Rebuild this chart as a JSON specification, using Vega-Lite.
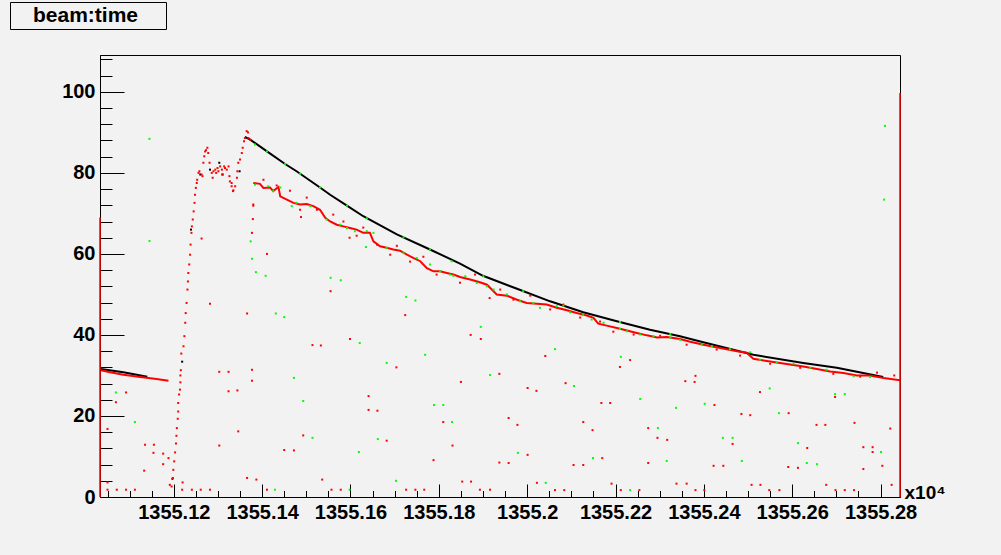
{
  "$schema": "https://vega.github.io/schema/vega-lite/v6.json",
  "width": 800,
  "height": 442,
  "autosize": {"type": "none"},
  "padding": {"left": 100, "top": 55, "right": 101, "bottom": 58},
  "background": "#f2f2f2",
  "config": {
    "view": {"stroke": "#000000", "strokeWidth": 1, "fill": "#f2f2f2"},
    "font": "Liberation Sans",
    "axis": {"labelFont": "Liberation Sans", "labelFontSize": 20, "labelFontWeight": "bold", "labelColor": "#000000", "domainColor": "#000000", "tickColor": "#000000", "grid": false, "domainWidth": 1, "tickWidth": 1, "labelOverlap": false, "labelFlush": false, "labelBound": false}
  },
  "datasets": {
    "blackline": [
      {"t": 1355.1035, "v": 31.6, "seg": "a"}, {"t": 1355.1086, "v": 30.8, "seg": "a"}, {"t": 1355.1140, "v": 29.7, "seg": "a"},
      {"t": 1355.1361, "v": 88.9, "seg": "b"}, {"t": 1355.1373, "v": 88.2, "seg": "b"}, {"t": 1355.1411, "v": 85.3, "seg": "b"}, {"t": 1355.1452, "v": 82.2, "seg": "b"}, {"t": 1355.1478, "v": 80.4, "seg": "b"}, {"t": 1355.1531, "v": 76.4, "seg": "b"}, {"t": 1355.1554, "v": 74.6, "seg": "b"}, {"t": 1355.1592, "v": 71.9, "seg": "b"}, {"t": 1355.1629, "v": 69.3, "seg": "b"}, {"t": 1355.1705, "v": 64.8, "seg": "b"}, {"t": 1355.1780, "v": 61.1, "seg": "b"}, {"t": 1355.1848, "v": 57.6, "seg": "b"}, {"t": 1355.1900, "v": 54.6, "seg": "b"}, {"t": 1355.1977, "v": 51.4, "seg": "b"}, {"t": 1355.2052, "v": 48.3, "seg": "b"}, {"t": 1355.2127, "v": 45.6, "seg": "b"}, {"t": 1355.2203, "v": 43.4, "seg": "b"}, {"t": 1355.2278, "v": 41.3, "seg": "b"}, {"t": 1355.2346, "v": 39.7, "seg": "b"}, {"t": 1355.2392, "v": 38.4, "seg": "b"}, {"t": 1355.2512, "v": 35.1, "seg": "b"}, {"t": 1355.2625, "v": 33.1, "seg": "b"}, {"t": 1355.2701, "v": 31.9, "seg": "b"}, {"t": 1355.2806, "v": 29.6, "seg": "b"}
    ],
    "blackpts": [
      {"t": 1355.1197, "v": 4.5, "name": "beam:time"}, {"t": 1355.1219, "v": 33.4, "name": "beam:time"}, {"t": 1355.1239, "v": 66.0, "name": "beam:time"}, {"t": 1355.1260, "v": 79.6, "name": "beam:time"}, {"t": 1355.1282, "v": 80.8, "name": "beam:time"}, {"t": 1355.1303, "v": 82.5, "name": "beam:time"}, {"t": 1355.1310, "v": 79.6, "name": "beam:time"}, {"t": 1355.1349, "v": 80.4, "name": "beam:time"}
    ],
    "redline": [
      {"t": 1355.1035, "v": 31.3, "seg": "a"}, {"t": 1355.1056, "v": 30.8, "seg": "a"}, {"t": 1355.1086, "v": 30.2, "seg": "a"}, {"t": 1355.1124, "v": 29.6, "seg": "a"}, {"t": 1355.1161, "v": 29.1, "seg": "a"}, {"t": 1355.1188, "v": 28.7, "seg": "a"},
      {"t": 1355.1380, "v": 77.5, "seg": "b"}, {"t": 1355.1395, "v": 77.3, "seg": "b"}, {"t": 1355.1403, "v": 76.3, "seg": "b"}, {"t": 1355.1418, "v": 76.4, "seg": "b"}, {"t": 1355.1425, "v": 75.5, "seg": "b"}, {"t": 1355.1437, "v": 76.5, "seg": "b"}, {"t": 1355.1441, "v": 74.2, "seg": "b"}, {"t": 1355.1456, "v": 73.4, "seg": "b"}, {"t": 1355.1471, "v": 72.6, "seg": "b"}, {"t": 1355.1486, "v": 72.2, "seg": "b"}, {"t": 1355.1501, "v": 72.3, "seg": "b"}, {"t": 1355.1516, "v": 71.8, "seg": "b"}, {"t": 1355.1531, "v": 70.9, "seg": "b"}, {"t": 1355.1543, "v": 68.9, "seg": "b"}, {"t": 1355.1554, "v": 68.0, "seg": "b"}, {"t": 1355.1569, "v": 67.2, "seg": "b"}, {"t": 1355.1584, "v": 66.8, "seg": "b"}, {"t": 1355.1599, "v": 66.4, "seg": "b"}, {"t": 1355.1614, "v": 66.0, "seg": "b"}, {"t": 1355.1629, "v": 65.2, "seg": "b"}, {"t": 1355.1644, "v": 65.2, "seg": "b"}, {"t": 1355.1652, "v": 63.1, "seg": "b"}, {"t": 1355.1667, "v": 61.9, "seg": "b"}, {"t": 1355.1682, "v": 61.5, "seg": "b"}, {"t": 1355.1697, "v": 61.1, "seg": "b"}, {"t": 1355.1712, "v": 60.8, "seg": "b"}, {"t": 1355.1728, "v": 59.8, "seg": "b"}, {"t": 1355.1742, "v": 59.0, "seg": "b"}, {"t": 1355.1758, "v": 58.2, "seg": "b"}, {"t": 1355.1773, "v": 56.5, "seg": "b"}, {"t": 1355.1788, "v": 55.7, "seg": "b"}, {"t": 1355.1803, "v": 55.7, "seg": "b"}, {"t": 1355.1818, "v": 55.3, "seg": "b"}, {"t": 1355.1833, "v": 54.9, "seg": "b"}, {"t": 1355.1848, "v": 54.3, "seg": "b"}, {"t": 1355.1871, "v": 53.7, "seg": "b"}, {"t": 1355.1893, "v": 53.0, "seg": "b"}, {"t": 1355.1909, "v": 52.4, "seg": "b"}, {"t": 1355.1920, "v": 51.2, "seg": "b"}, {"t": 1355.1931, "v": 50.0, "seg": "b"}, {"t": 1355.1954, "v": 49.7, "seg": "b"}, {"t": 1355.1977, "v": 48.7, "seg": "b"}, {"t": 1355.1999, "v": 47.9, "seg": "b"}, {"t": 1355.2022, "v": 47.7, "seg": "b"}, {"t": 1355.2044, "v": 47.5, "seg": "b"}, {"t": 1355.2067, "v": 46.7, "seg": "b"}, {"t": 1355.2090, "v": 46.1, "seg": "b"}, {"t": 1355.2112, "v": 45.4, "seg": "b"}, {"t": 1355.2135, "v": 44.8, "seg": "b"}, {"t": 1355.2150, "v": 44.2, "seg": "b"}, {"t": 1355.2161, "v": 42.8, "seg": "b"}, {"t": 1355.2180, "v": 42.3, "seg": "b"}, {"t": 1355.2203, "v": 41.7, "seg": "b"}, {"t": 1355.2226, "v": 41.1, "seg": "b"}, {"t": 1355.2248, "v": 40.5, "seg": "b"}, {"t": 1355.2271, "v": 39.9, "seg": "b"}, {"t": 1355.2294, "v": 39.4, "seg": "b"}, {"t": 1355.2316, "v": 39.5, "seg": "b"}, {"t": 1355.2346, "v": 39.0, "seg": "b"}, {"t": 1355.2369, "v": 38.3, "seg": "b"}, {"t": 1355.2399, "v": 37.6, "seg": "b"}, {"t": 1355.2437, "v": 36.8, "seg": "b"}, {"t": 1355.2475, "v": 36.0, "seg": "b"}, {"t": 1355.2497, "v": 35.6, "seg": "b"}, {"t": 1355.2512, "v": 34.1, "seg": "b"}, {"t": 1355.2535, "v": 33.7, "seg": "b"}, {"t": 1355.2565, "v": 33.2, "seg": "b"}, {"t": 1355.2595, "v": 32.7, "seg": "b"}, {"t": 1355.2625, "v": 32.2, "seg": "b"}, {"t": 1355.2656, "v": 31.6, "seg": "b"}, {"t": 1355.2686, "v": 31.0, "seg": "b"}, {"t": 1355.2716, "v": 30.6, "seg": "b"}, {"t": 1355.2746, "v": 30.0, "seg": "b"}, {"t": 1355.2776, "v": 30.0, "seg": "b"}, {"t": 1355.2807, "v": 29.4, "seg": "b"}, {"t": 1355.2844, "v": 28.8, "seg": "b"}
    ],
    "red": [
      {"t": 1355.1195, "v": 2.6}, {"t": 1355.1198, "v": 4.7}, {"t": 1355.1199, "v": 6.7}, {"t": 1355.1201, "v": 8.8}, {"t": 1355.1203, "v": 11.0}, {"t": 1355.1205, "v": 13.2}, {"t": 1355.1206, "v": 15.1}, {"t": 1355.1207, "v": 17.0}, {"t": 1355.1209, "v": 19.3}, {"t": 1355.1210, "v": 21.1}, {"t": 1355.1210, "v": 23.2}, {"t": 1355.1212, "v": 25.3}, {"t": 1355.1214, "v": 26.5}, {"t": 1355.1215, "v": 28.3}, {"t": 1355.1215, "v": 30.0}, {"t": 1355.1216, "v": 31.3}, {"t": 1355.1217, "v": 35.4}, {"t": 1355.1222, "v": 37.2}, {"t": 1355.1224, "v": 39.7}, {"t": 1355.1226, "v": 43.0}, {"t": 1355.1227, "v": 45.4}, {"t": 1355.1229, "v": 47.9}, {"t": 1355.1231, "v": 51.2}, {"t": 1355.1232, "v": 53.2}, {"t": 1355.1233, "v": 55.3}, {"t": 1355.1235, "v": 57.4}, {"t": 1355.1237, "v": 59.8}, {"t": 1355.1238, "v": 62.3}, {"t": 1355.1240, "v": 65.2}, {"t": 1355.1241, "v": 66.8}, {"t": 1355.1243, "v": 68.5}, {"t": 1355.1245, "v": 70.5}, {"t": 1355.1247, "v": 72.6}, {"t": 1355.1248, "v": 74.6}, {"t": 1355.1250, "v": 76.3}, {"t": 1355.1252, "v": 77.5}, {"t": 1355.1253, "v": 78.3}, {"t": 1355.1256, "v": 80.0}, {"t": 1355.1258, "v": 80.4},
      {"t": 1355.1263, "v": 79.6}, {"t": 1355.1265, "v": 79.2}, {"t": 1355.1267, "v": 82.5}, {"t": 1355.1269, "v": 84.1}, {"t": 1355.1271, "v": 85.3}, {"t": 1355.1273, "v": 85.6}, {"t": 1355.1276, "v": 86.2}, {"t": 1355.1278, "v": 84.9}, {"t": 1355.1281, "v": 82.5}, {"t": 1355.1286, "v": 80.0}, {"t": 1355.1288, "v": 78.8}, {"t": 1355.1290, "v": 80.4}, {"t": 1355.1294, "v": 80.8}, {"t": 1355.1296, "v": 80.0}, {"t": 1355.1299, "v": 81.2}, {"t": 1355.1301, "v": 80.4}, {"t": 1355.1305, "v": 81.6}, {"t": 1355.1309, "v": 80.8}, {"t": 1355.1311, "v": 79.6}, {"t": 1355.1314, "v": 81.6}, {"t": 1355.1316, "v": 81.2}, {"t": 1355.1320, "v": 80.8}, {"t": 1355.1324, "v": 81.6}, {"t": 1355.1326, "v": 79.2}, {"t": 1355.1327, "v": 77.9}, {"t": 1355.1331, "v": 76.7}, {"t": 1355.1331, "v": 77.5}, {"t": 1355.1334, "v": 75.5}, {"t": 1355.1335, "v": 75.7}, {"t": 1355.1339, "v": 76.7}, {"t": 1355.1343, "v": 78.8}, {"t": 1355.1344, "v": 80.4}, {"t": 1355.1346, "v": 82.5}, {"t": 1355.1350, "v": 83.3}, {"t": 1355.1354, "v": 84.9}, {"t": 1355.1356, "v": 86.2}, {"t": 1355.1359, "v": 87.8}, {"t": 1355.1361, "v": 88.6}, {"t": 1355.1365, "v": 90.3}, {"t": 1355.1368, "v": 90.0}, {"t": 1355.1369, "v": 88.6}, {"t": 1355.1373, "v": 88.2},
      {"t": 1355.1403, "v": 78.3}, {"t": 1355.1433, "v": 76.9}, {"t": 1355.1463, "v": 75.6}, {"t": 1355.1486, "v": 70.9}, {"t": 1355.1501, "v": 73.9}, {"t": 1355.1524, "v": 70.9}, {"t": 1355.1561, "v": 69.7}, {"t": 1355.1584, "v": 68.0}, {"t": 1355.1614, "v": 64.5}, {"t": 1355.1629, "v": 66.5}, {"t": 1355.1660, "v": 62.3}, {"t": 1355.1690, "v": 59.8}, {"t": 1355.1705, "v": 62.0}, {"t": 1355.1735, "v": 58.1}, {"t": 1355.1765, "v": 59.3}, {"t": 1355.1795, "v": 54.9}, {"t": 1355.1848, "v": 52.9}, {"t": 1355.1882, "v": 54.9}, {"t": 1355.1939, "v": 51.2}, {"t": 1355.1969, "v": 48.7}, {"t": 1355.2007, "v": 49.7}, {"t": 1355.2052, "v": 46.3}, {"t": 1355.2082, "v": 47.5}, {"t": 1355.2120, "v": 44.3}, {"t": 1355.2165, "v": 43.3}, {"t": 1355.2195, "v": 40.8}, {"t": 1355.2241, "v": 40.1}, {"t": 1355.2301, "v": 39.8}, {"t": 1355.2361, "v": 37.6}, {"t": 1355.2429, "v": 36.4}, {"t": 1355.2482, "v": 34.9}, {"t": 1355.2550, "v": 32.9}, {"t": 1355.2618, "v": 31.9}, {"t": 1355.2693, "v": 30.4}, {"t": 1355.2754, "v": 29.7}, {"t": 1355.2792, "v": 30.7},
      {"t": 1355.1263, "v": 63.8}, {"t": 1355.1282, "v": 47.7}, {"t": 1355.1379, "v": 68.6}, {"t": 1355.1377, "v": 65.2}, {"t": 1355.1411, "v": 60.0}, {"t": 1355.1380, "v": 72.2}, {"t": 1355.1380, "v": 71.9}, {"t": 1355.1366, "v": 45.3}, {"t": 1355.1488, "v": 69.1}, {"t": 1355.1555, "v": 50.8}, {"t": 1355.1599, "v": 39.0}, {"t": 1355.1514, "v": 37.5}, {"t": 1355.1533, "v": 37.4}, {"t": 1355.1598, "v": 64.0}, {"t": 1355.1704, "v": 32.0}, {"t": 1355.1724, "v": 44.9}, {"t": 1355.1872, "v": 40.0}, {"t": 1355.1895, "v": 39.0}, {"t": 1355.1915, "v": 49.1}, {"t": 1355.1937, "v": 30.4}, {"t": 1355.1850, "v": 28.4}, {"t": 1355.1641, "v": 24.9}, {"t": 1355.1641, "v": 21.5}, {"t": 1355.1661, "v": 21.3}, {"t": 1355.1810, "v": 18.5}, {"t": 1355.1788, "v": 9.1}, {"t": 1355.1831, "v": 12.7}, {"t": 1355.1937, "v": 8.5}, {"t": 1355.1853, "v": 3.8}, {"t": 1355.1873, "v": 3.8}, {"t": 1355.1682, "v": 13.9}, {"t": 1355.1493, "v": 15.2}, {"t": 1355.1450, "v": 11.6}, {"t": 1355.1472, "v": 11.5}, {"t": 1355.1377, "v": 31.4}, {"t": 1355.1377, "v": 28.7}, {"t": 1355.1303, "v": 30.9}, {"t": 1355.1324, "v": 30.9}, {"t": 1355.1324, "v": 26.1}, {"t": 1355.1344, "v": 26.3}, {"t": 1355.1346, "v": 16.2}, {"t": 1355.1303, "v": 12.7}, {"t": 1355.1366, "v": 4.7}, {"t": 1355.1387, "v": 4.3}, {"t": 1355.1536, "v": 4.3}, {"t": 1355.1557, "v": 1.8}, {"t": 1355.1578, "v": 1.8}, {"t": 1355.1411, "v": 1.8}, {"t": 1355.1726, "v": 1.8}, {"t": 1355.1747, "v": 1.8}, {"t": 1355.1767, "v": 1.8}, {"t": 1355.1893, "v": 1.8}, {"t": 1355.1916, "v": 1.8}, {"t": 1355.1092, "v": 25.8}, {"t": 1355.1069, "v": 23.4}, {"t": 1355.1050, "v": 16.8}, {"t": 1355.1135, "v": 12.9}, {"t": 1355.1155, "v": 12.9}, {"t": 1355.1154, "v": 10.9}, {"t": 1355.1176, "v": 10.7}, {"t": 1355.1176, "v": 8.1}, {"t": 1355.1188, "v": 9.6}, {"t": 1355.1133, "v": 6.5}, {"t": 1355.1050, "v": 3.6}, {"t": 1355.1050, "v": 1.8}, {"t": 1355.1071, "v": 1.8}, {"t": 1355.1092, "v": 1.8}, {"t": 1355.1112, "v": 1.8}, {"t": 1355.1219, "v": 1.8}, {"t": 1355.1241, "v": 1.8}, {"t": 1355.1261, "v": 1.8}, {"t": 1355.1282, "v": 1.8}, {"t": 1355.1220, "v": 3.6}, {"t": 1355.1191, "v": 3.0},
      {"t": 1355.2041, "v": 34.8}, {"t": 1355.2233, "v": 33.8}, {"t": 1355.2210, "v": 32.1}, {"t": 1355.2381, "v": 29.9}, {"t": 1355.2358, "v": 28.6}, {"t": 1355.2379, "v": 28.4}, {"t": 1355.2087, "v": 28.1}, {"t": 1355.2001, "v": 26.9}, {"t": 1355.2021, "v": 26.2}, {"t": 1355.1958, "v": 19.5}, {"t": 1355.1978, "v": 17.8}, {"t": 1355.2168, "v": 23.2}, {"t": 1355.2188, "v": 23.2}, {"t": 1355.2424, "v": 22.7}, {"t": 1355.2127, "v": 18.5}, {"t": 1355.2148, "v": 16.5}, {"t": 1355.2274, "v": 17.0}, {"t": 1355.2295, "v": 14.6}, {"t": 1355.2317, "v": 14.1}, {"t": 1355.2465, "v": 13.1}, {"t": 1355.2485, "v": 20.5}, {"t": 1355.2505, "v": 20.2}, {"t": 1355.2527, "v": 25.9}, {"t": 1355.2592, "v": 20.7}, {"t": 1355.2634, "v": 12.1}, {"t": 1355.2655, "v": 17.8}, {"t": 1355.2675, "v": 17.8}, {"t": 1355.2697, "v": 24.7}, {"t": 1355.2741, "v": 18.3}, {"t": 1355.2761, "v": 12.3}, {"t": 1355.2782, "v": 12.3}, {"t": 1355.2782, "v": 11.1}, {"t": 1355.2822, "v": 16.9}, {"t": 1355.2831, "v": 30.0}, {"t": 1355.2001, "v": 10.4}, {"t": 1355.1958, "v": 8.4}, {"t": 1355.2105, "v": 7.9}, {"t": 1355.2127, "v": 7.9}, {"t": 1355.2170, "v": 9.6}, {"t": 1355.2274, "v": 8.4}, {"t": 1355.2422, "v": 7.7}, {"t": 1355.2444, "v": 7.7}, {"t": 1355.2591, "v": 7.4}, {"t": 1355.2613, "v": 7.2}, {"t": 1355.2761, "v": 6.9}, {"t": 1355.2804, "v": 7.7}, {"t": 1355.2022, "v": 3.5}, {"t": 1355.2191, "v": 3.3}, {"t": 1355.2338, "v": 3.3}, {"t": 1355.2361, "v": 3.3}, {"t": 1355.2508, "v": 3.0}, {"t": 1355.2528, "v": 3.0}, {"t": 1355.2677, "v": 3.0}, {"t": 1355.2825, "v": 3.0}, {"t": 1355.2063, "v": 1.7}, {"t": 1355.2084, "v": 1.7}, {"t": 1355.2212, "v": 1.7}, {"t": 1355.2254, "v": 1.7}, {"t": 1355.2381, "v": 1.7}, {"t": 1355.2401, "v": 1.7}, {"t": 1355.2548, "v": 1.7}, {"t": 1355.2571, "v": 1.7}, {"t": 1355.2698, "v": 1.7}, {"t": 1355.2719, "v": 1.7}, {"t": 1355.2740, "v": 1.7}
    ],
    "green": [
      {"t": 1355.1145, "v": 88.4}, {"t": 1355.1145, "v": 63.2}, {"t": 1355.2810, "v": 91.6}, {"t": 1355.2808, "v": 73.4}, {"t": 1355.1374, "v": 63.1}, {"t": 1355.1377, "v": 58.8}, {"t": 1355.1386, "v": 55.5}, {"t": 1355.1408, "v": 54.6}, {"t": 1355.1431, "v": 45.3}, {"t": 1355.1450, "v": 44.4}, {"t": 1355.1555, "v": 54.1}, {"t": 1355.1578, "v": 53.5}, {"t": 1355.1621, "v": 38.0}, {"t": 1355.1635, "v": 61.7}, {"t": 1355.1682, "v": 33.1}, {"t": 1355.1726, "v": 49.4}, {"t": 1355.1747, "v": 48.5}, {"t": 1355.1895, "v": 42.0}, {"t": 1355.1769, "v": 35.1}, {"t": 1355.1916, "v": 30.1}, {"t": 1355.1789, "v": 22.7}, {"t": 1355.1810, "v": 22.7}, {"t": 1355.1830, "v": 18.5}, {"t": 1355.1703, "v": 4.0}, {"t": 1355.1662, "v": 14.3}, {"t": 1355.1619, "v": 11.1}, {"t": 1355.1514, "v": 14.6}, {"t": 1355.1493, "v": 23.7}, {"t": 1355.1472, "v": 29.4}, {"t": 1355.1598, "v": 1.8}, {"t": 1355.1429, "v": 1.8}, {"t": 1355.1069, "v": 25.8}, {"t": 1355.1112, "v": 18.5}, {"t": 1355.2063, "v": 36.5}, {"t": 1355.2212, "v": 34.6}, {"t": 1355.2106, "v": 27.4}, {"t": 1355.2256, "v": 24.2}, {"t": 1355.2337, "v": 22.0}, {"t": 1355.2402, "v": 23.0}, {"t": 1355.2296, "v": 17.0}, {"t": 1355.2443, "v": 14.6}, {"t": 1355.2465, "v": 14.6}, {"t": 1355.2549, "v": 26.8}, {"t": 1355.2570, "v": 20.7}, {"t": 1355.2613, "v": 13.3}, {"t": 1355.2697, "v": 25.4}, {"t": 1355.2719, "v": 25.4}, {"t": 1355.2801, "v": 11.1}, {"t": 1355.1979, "v": 10.9}, {"t": 1355.2149, "v": 9.6}, {"t": 1355.2316, "v": 8.9}, {"t": 1355.2486, "v": 8.9}, {"t": 1355.2633, "v": 8.4}, {"t": 1355.2656, "v": 8.1}, {"t": 1355.2042, "v": 3.5}, {"t": 1355.2233, "v": 1.7},
      {"t": 1355.1384, "v": 87.0}, {"t": 1355.1411, "v": 85.3}, {"t": 1355.1452, "v": 82.2}, {"t": 1355.1486, "v": 79.8}, {"t": 1355.1531, "v": 76.4}, {"t": 1355.1592, "v": 71.9}, {"t": 1355.1637, "v": 68.8}, {"t": 1355.1720, "v": 64.1}, {"t": 1355.1780, "v": 61.1}, {"t": 1355.1829, "v": 58.2}, {"t": 1355.1901, "v": 54.5}, {"t": 1355.1991, "v": 50.8}, {"t": 1355.2082, "v": 47.2}, {"t": 1355.2210, "v": 43.2}, {"t": 1355.2324, "v": 40.2},
      {"t": 1355.1384, "v": 77.1}, {"t": 1355.1414, "v": 76.7}, {"t": 1355.1425, "v": 75.5}, {"t": 1355.1441, "v": 76.4}, {"t": 1355.1467, "v": 71.8}, {"t": 1355.1478, "v": 72.6}, {"t": 1355.1509, "v": 71.8}, {"t": 1355.1546, "v": 68.5}, {"t": 1355.1577, "v": 67.2}, {"t": 1355.1592, "v": 66.4}, {"t": 1355.1610, "v": 65.6}, {"t": 1355.1637, "v": 65.6}, {"t": 1355.1652, "v": 65.2}, {"t": 1355.1682, "v": 61.5}, {"t": 1355.1720, "v": 60.2}, {"t": 1355.1750, "v": 59.0}, {"t": 1355.1780, "v": 57.4}, {"t": 1355.1803, "v": 55.7}, {"t": 1355.1826, "v": 54.9}, {"t": 1355.1833, "v": 54.6}, {"t": 1355.1860, "v": 54.5}, {"t": 1355.1886, "v": 52.8}, {"t": 1355.1909, "v": 52.0}, {"t": 1355.1924, "v": 51.2}, {"t": 1355.1954, "v": 50.0}, {"t": 1355.1984, "v": 48.3}, {"t": 1355.2014, "v": 47.9}, {"t": 1355.2029, "v": 46.7}, {"t": 1355.2067, "v": 47.1}, {"t": 1355.2097, "v": 45.6}, {"t": 1355.2127, "v": 45.0}, {"t": 1355.2146, "v": 43.8}, {"t": 1355.2173, "v": 43.0}, {"t": 1355.2210, "v": 41.5}, {"t": 1355.2226, "v": 40.9}, {"t": 1355.2256, "v": 40.1}, {"t": 1355.2286, "v": 39.7}, {"t": 1355.2324, "v": 39.3}, {"t": 1355.2346, "v": 38.8}, {"t": 1355.2395, "v": 37.6}, {"t": 1355.2418, "v": 37.2}, {"t": 1355.2459, "v": 36.5}, {"t": 1355.2505, "v": 35.7}, {"t": 1355.2527, "v": 33.9}, {"t": 1355.2565, "v": 33.1}, {"t": 1355.2603, "v": 32.9}, {"t": 1355.2641, "v": 31.9}, {"t": 1355.2678, "v": 31.4}, {"t": 1355.2739, "v": 29.8}, {"t": 1355.2776, "v": 29.6}
    ],
    "edges": [
      {"t": 1355.1033, "v": 0, "v1": 69.0},
      {"t": 1355.2844, "v": 0, "v1": 99.7}
    ]
  },
  "encoding": {
    "x": {
      "field": "t", "type": "quantitative",
      "scale": {"domain": [1355.1033, 1355.2844], "nice": false, "zero": false},
      "axis": {
        "title": "x10⁴", "titleFont": "Liberation Sans", "titleFontSize": 19, "titleFontWeight": "bold", "titleColor": "#000000",
        "titleX": 804, "titleY": -5, "titleAlign": "left", "titleBaseline": "middle", "titleAngle": 0,
        "values": [1355.105, 1355.11, 1355.115, 1355.12, 1355.125, 1355.13, 1355.135, 1355.14, 1355.145, 1355.15, 1355.155, 1355.16, 1355.165, 1355.17, 1355.175, 1355.18, 1355.185, 1355.19, 1355.195, 1355.2, 1355.205, 1355.21, 1355.215, 1355.22, 1355.225, 1355.23, 1355.235, 1355.24, 1355.245, 1355.25, 1355.255, 1355.26, 1355.265, 1355.27, 1355.275, 1355.28],
        "labelExpr": "round(datum.value*1000) % 20 === 0 ? format(datum.value, '.2~f') : ''",
        "tickSize": {"condition": {"test": "round(datum.value*1000) % 20 === 0", "value": -13}, "value": -6.5},
        "labelPadding": 18
      }
    },
    "y": {
      "field": "v", "type": "quantitative",
      "scale": {"domain": [0, 109.1], "nice": false},
      "axis": {
        "title": null,
        "values": [0, 4, 8, 12, 16, 20, 24, 28, 32, 36, 40, 44, 48, 52, 56, 60, 64, 68, 72, 76, 80, 84, 88, 92, 96, 100, 104, 108],
        "labelExpr": "datum.value % 20 === 0 ? datum.label : ''",
        "tickSize": {"condition": {"test": "datum.value % 20 === 0", "value": -24}, "value": -12},
        "labelPadding": 29
      }
    }
  },
  "layer": [
    {
      "data": {"name": "blackline"},
      "mark": {"type": "line", "color": "#000000", "strokeWidth": 2},
      "encoding": {"detail": {"field": "seg", "type": "nominal"}}
    },
    {
      "data": {"name": "blackpts"},
      "mark": {"type": "point", "filled": true, "size": 4, "color": "#000000", "opacity": 1},
      "encoding": {
        "shape": {
          "field": "name", "type": "nominal",
          "scale": {"range": ["square"]},
          "legend": {
            "orient": "none", "legendX": -90, "legendY": -53, "title": null,
            "strokeColor": "#000000", "fillColor": "#f2f2f2", "padding": 3,
            "symbolOpacity": 0, "symbolSize": 256, "symbolStrokeWidth": 0, "symbolOffset": 131,
            "labelFont": "Liberation Sans", "labelFontSize": 21, "labelFontWeight": "bold", "labelColor": "#000000",
            "labelOffset": -132, "labelLimit": 0
          }
        }
      }
    },
    {
      "data": {"name": "redline"},
      "mark": {"type": "line", "color": "#ff0000", "strokeWidth": 2},
      "encoding": {"detail": {"field": "seg", "type": "nominal"}}
    },
    {
      "data": {"name": "red"},
      "mark": {"type": "square", "size": 4, "color": "#ff0000", "opacity": 1}
    },
    {
      "data": {"name": "green"},
      "mark": {"type": "square", "size": 4, "color": "#00ff00", "opacity": 1}
    },
    {
      "data": {"name": "edges"},
      "mark": {"type": "rule", "color": "#ff0000", "strokeWidth": 1.5},
      "encoding": {"y2": {"field": "v1"}}
    }
  ]
}
